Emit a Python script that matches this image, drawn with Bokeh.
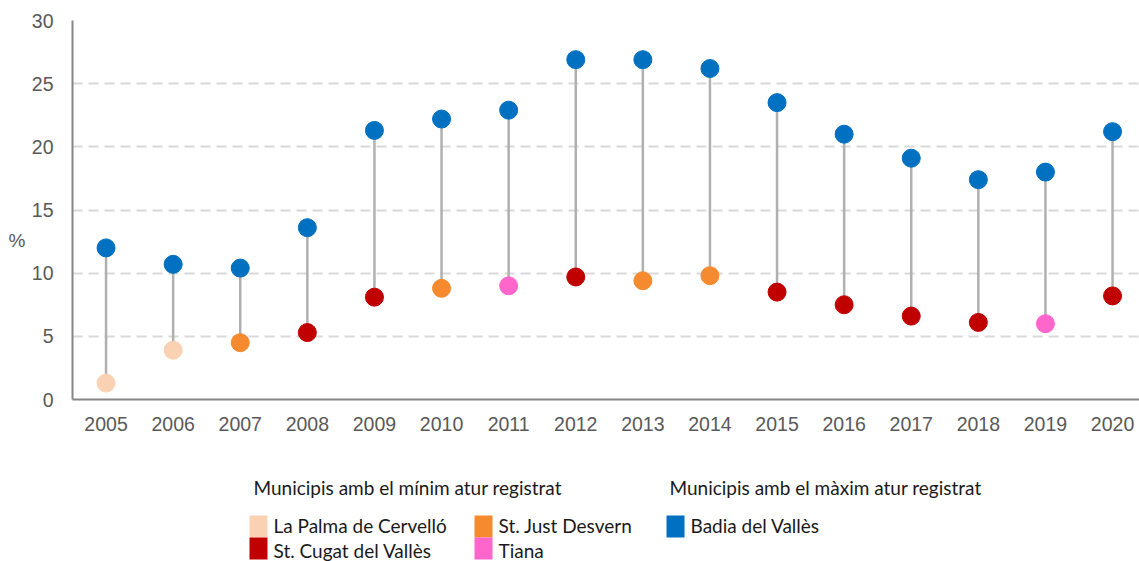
from bokeh.plotting import figure
from bokeh.models import Range1d, FixedTicker, ColumnDataSource, LinearAxis
from bokeh.layouts import column
from bokeh.embed import file_html
from bokeh.resources import INLINE
from bokeh.core.properties import value

years = [2005, 2006, 2007, 2008, 2009, 2010, 2011, 2012,
         2013, 2014, 2015, 2016, 2017, 2018, 2019, 2020]
max_values = [12.0, 10.7, 10.4, 13.6, 21.3, 22.2, 22.9, 26.9,
              26.9, 26.2, 23.5, 21.0, 19.1, 17.4, 18.0, 21.2]
min_values = [1.3, 3.9, 4.5, 5.3, 8.1, 8.8, 9.0, 9.7,
              9.4, 9.8, 8.5, 7.5, 6.6, 6.1, 6.0, 8.2]
min_municipality = ["La Palma de Cervelló", "La Palma de Cervelló", "St. Just Desvern",
                    "St. Cugat del Vallès", "St. Cugat del Vallès", "St. Just Desvern",
                    "Tiana", "St. Cugat del Vallès", "St. Just Desvern", "St. Just Desvern",
                    "St. Cugat del Vallès", "St. Cugat del Vallès", "St. Cugat del Vallès",
                    "St. Cugat del Vallès", "Tiana", "St. Cugat del Vallès"]
max_municipality = ["Badia del Vallès"] * 16
y_ticks = [0, 5, 10, 15, 20, 25, 30]
legend_title_min = "Municipis amb el mínim atur registrat"
legend_title_max = "Municipis amb el màxim atur registrat"
legend_min = ["La Palma de Cervelló", "St. Cugat del Vallès", "St. Just Desvern", "Tiana"]
legend_max = ["Badia del Vallès"]
y_label = "%"

palette = {
    "La Palma de Cervelló": "#FAD2B3",
    "St. Cugat del Vallès": "#C00000",
    "St. Just Desvern": "#F58A2F",
    "Tiana": "#FF66CC",
    "Badia del Vallès": "#0070C0",
}

W = 1139
H_MAIN = 444
H_LEG = 117
LEFT = 72

src = ColumnDataSource(dict(
    x=years, ymax=max_values, ymin=min_values,
    cmin=[palette[m] for m in min_municipality],
    cmax=[palette[m] for m in max_municipality],
))

p = figure(width=W, height=H_MAIN, output_backend="svg", toolbar_location=None,
           x_range=Range1d(2004.5, 2004.5 + (W - LEFT) / 67.1), y_range=Range1d(0, 30),
           min_border_left=LEFT, min_border_right=0, min_border_top=20, min_border_bottom=45)
p.outline_line_color = None
p.background_fill_color = "white"
p.border_fill_color = "white"

p.segment(x0="x", y0="ymin", x1="x", y1="ymax", source=src, line_color="#B0B0B0", line_width=2.5)
p.scatter(x="x", y="ymax", source=src, size=18, fill_color="cmax", line_color="cmax")
p.scatter(x="x", y="ymin", source=src, size=18, fill_color="cmin", line_color="cmin")

for ax in (p.xaxis[0], p.yaxis[0]):
    ax.axis_line_color = "#868686"
    ax.axis_line_width = 2
    ax.major_tick_line_color = None
    ax.minor_tick_line_color = None
    ax.major_tick_out = 0
    ax.major_tick_in = 0
    ax.major_label_text_color = "#595959"
    ax.major_label_text_font = "Liberation Sans"
    ax.major_label_text_font_size = "19.5px"

p.xaxis.ticker = FixedTicker(ticks=years)
p.xaxis.major_label_standoff = 17
p.yaxis.ticker = FixedTicker(ticks=y_ticks)
p.yaxis.major_label_standoff = 19

p.xgrid.grid_line_color = None
p.ygrid.grid_line_color = "#D9D9D9"
p.ygrid.grid_line_width = 2
p.ygrid.grid_line_dash = "10 6"

# unit label "%" drawn as the single label of an outer left axis
pct_pos = 12.6
pct_axis = LinearAxis(ticker=FixedTicker(ticks=[pct_pos]),
                      major_label_overrides={pct_pos: y_label})
pct_axis.axis_line_color = None
pct_axis.major_tick_line_color = None
pct_axis.minor_tick_line_color = None
pct_axis.major_tick_out = 0
pct_axis.major_tick_in = 0
pct_axis.major_label_text_color = "#595959"
pct_axis.major_label_text_font = "Liberation Sans"
pct_axis.major_label_text_font_size = "19px"
pct_axis.major_label_standoff = 3
p.add_layout(pct_axis, "left")

# legend figure (data coordinates equal page pixels)
lg = figure(width=W, height=H_LEG, output_backend="svg", toolbar_location=None,
            x_range=Range1d(LEFT, W), y_range=Range1d(H_MAIN + H_LEG, H_MAIN),
            min_border_left=LEFT, min_border_right=0, min_border_top=0, min_border_bottom=0)
lg.axis.visible = False
lg.grid.visible = False
lg.outline_line_color = None

font = value("Lato")
lg.text(x=[253, 669], y=[487, 487], text=[legend_title_min, legend_title_max],
        text_font=font, text_font_size="19px", text_color="#1a1a1a", text_baseline="middle")

items = legend_min + legend_max
sq_x = [258, 258, 483, 483, 675]
sq_y = [526, 548, 526, 548, 526]
tx_x = [273, 273, 498, 498, 690]
tx_y = [525, 550, 525, 550, 525]
lg.rect(x=sq_x, y=sq_y, width=18, height=22, fill_color=[palette[m] for m in items], line_color=None)
lg.text(x=tx_x, y=tx_y, text=items, text_font=font, text_font_size="19px",
        text_color="#1a1a1a", text_baseline="middle")

layout = column(p, lg, spacing=0)
open("out.html", "w").write(file_html(layout, INLINE))
